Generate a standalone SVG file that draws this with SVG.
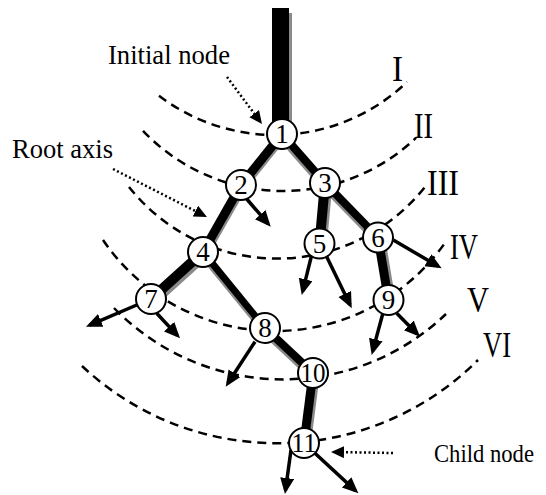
<svg xmlns="http://www.w3.org/2000/svg" width="546" height="495" viewBox="0 0 546 495">
<defs>
<marker id="ah" markerUnits="userSpaceOnUse" markerWidth="18" markerHeight="16" refX="12" refY="7" orient="auto"><path d="M0,0 L16,7 L0,14 z" fill="#000"/></marker>
<marker id="ph" markerUnits="userSpaceOnUse" markerWidth="15" markerHeight="13" refX="9" refY="6" orient="auto"><path d="M0,0 L13,6 L0,12 z" fill="#000"/></marker>
</defs>
<style>
.arc{fill:none;stroke:#000;stroke-width:2.5;stroke-dasharray:9 6}
.sh{stroke:#8a8a8a}
.ed{stroke:#000}
.ar{stroke:#000;stroke-width:3.5;marker-end:url(#ah)}
.pt{stroke:#000;stroke-width:2.5;stroke-dasharray:2 2.5;marker-end:url(#ph)}
.nd circle{fill:#fff;stroke:#000;stroke-width:2}
.nd text{font-family:"Liberation Serif","Times New Roman",serif;font-size:27px;text-anchor:middle}
.lb{font-family:"Liberation Serif","Times New Roman",serif;font-size:27px}
.rn{font-family:"Liberation Serif","Times New Roman",serif;font-size:36px}
</style>
<g id="arcs">
<path class="arc" d="M159,95.7 A191,191 0 0 0 407,82"/>
<path class="arc" d="M143,130.8 A193,193 0 0 0 416,137.9"/>
<path class="arc" d="M129,186.9 A188.6,188.6 0 0 0 428,183"/>
<path class="arc" d="M103,240 A208,208 0 0 0 447,240"/>
<path class="arc" d="M114,308 A235.8,235.8 0 0 0 446,314"/>
<path class="arc" d="M82,366 A284.6,284.6 0 0 0 478,360"/>
</g>
<g id="connectors">
<rect x="275" y="13" width="17" height="115" fill="#8a8a8a"/>
<rect x="272" y="8" width="17" height="120" fill="#000"/>
<line class="sh" x1="284" y1="135" x2="243" y2="186" stroke-width="9"/>
<line class="ed" x1="282" y1="134" x2="241" y2="185" stroke-width="9"/>
<line class="sh" x1="280.5" y1="136" x2="323.5" y2="185" stroke-width="8"/>
<line class="ed" x1="282" y1="134" x2="325" y2="183" stroke-width="8"/>
<line class="sh" x1="243" y1="186" x2="205" y2="253" stroke-width="9"/>
<line class="ed" x1="241" y1="185" x2="203" y2="252" stroke-width="9"/>
<line class="sh" x1="327.5" y1="183" x2="322" y2="243.5" stroke-width="10"/>
<line class="ed" x1="325" y1="183" x2="319.5" y2="243.5" stroke-width="10"/>
<line class="sh" x1="323.5" y1="185" x2="376.5" y2="239.5" stroke-width="8"/>
<line class="ed" x1="325" y1="183" x2="378" y2="237.5" stroke-width="8"/>
<line class="sh" x1="205.5" y1="254.5" x2="153.5" y2="301.5" stroke-width="10"/>
<line class="ed" x1="203" y1="252" x2="151" y2="299" stroke-width="10"/>
<line class="sh" x1="201" y1="253" x2="263" y2="329" stroke-width="7"/>
<line class="ed" x1="203" y1="252" x2="265" y2="328" stroke-width="7"/>
<line class="sh" x1="380.5" y1="237.5" x2="391" y2="300" stroke-width="9"/>
<line class="ed" x1="378" y1="237.5" x2="388.5" y2="300" stroke-width="9"/>
<line class="sh" x1="263.5" y1="330" x2="311.5" y2="375" stroke-width="8"/>
<line class="ed" x1="265" y1="328" x2="313" y2="373" stroke-width="8"/>
<line class="sh" x1="315.5" y1="373" x2="306.5" y2="443" stroke-width="9"/>
<line class="ed" x1="313" y1="373" x2="304" y2="443" stroke-width="9"/>
<line class="ar" x1="245" y1="197" x2="268.1" y2="223.7"/>
<line class="ar" x1="311.7" y1="255" x2="302.7" y2="291.1"/>
<line class="ar" x1="326.7" y1="256.7" x2="350" y2="304.7"/>
<line class="ar" x1="393.3" y1="240" x2="438.2" y2="266.3"/>
<line class="ar" x1="383.3" y1="311.7" x2="372.7" y2="351.1"/>
<line class="ar" x1="396.7" y1="313.3" x2="417.2" y2="333.9"/>
<line class="ar" x1="136.7" y1="305" x2="89.7" y2="325.1"/>
<line class="ar" x1="156.7" y1="313.3" x2="177.3" y2="335.4"/>
<line class="ar" x1="255" y1="341.7" x2="227.9" y2="383.3"/>
<line class="ar" x1="291" y1="450" x2="285.5" y2="490"/>
<line class="ar" x1="315" y1="453.3" x2="355.4" y2="490.6"/>
<line class="pt" x1="227" y1="77" x2="259.6" y2="120.8"/>
<line class="pt" x1="113" y1="169" x2="203.4" y2="215.2"/>
<line class="pt" x1="393" y1="453" x2="335" y2="452"/>
</g>
<g id="n1" class="nd"><circle cx="282" cy="134" r="15"/><text x="282" y="143">1</text></g>
<g id="n2" class="nd"><circle cx="241" cy="185" r="15"/><text x="241" y="194">2</text></g>
<g id="n3" class="nd"><circle cx="325" cy="183" r="15"/><text x="325" y="192">3</text></g>
<g id="n4" class="nd"><circle cx="203" cy="252" r="15"/><text x="203" y="261">4</text></g>
<g id="n5" class="nd"><circle cx="319.5" cy="243.5" r="15"/><text x="319.5" y="252.5">5</text></g>
<g id="n6" class="nd"><circle cx="378" cy="237.5" r="15"/><text x="378" y="246.5">6</text></g>
<g id="n7" class="nd"><circle cx="151" cy="299" r="15"/><text x="151" y="308">7</text></g>
<g id="n8" class="nd"><circle cx="265" cy="328" r="15"/><text x="265" y="337">8</text></g>
<g id="n9" class="nd"><circle cx="388.5" cy="300" r="15"/><text x="388.5" y="309">9</text></g>
<g id="n10" class="nd"><circle cx="313" cy="373" r="15"/><text x="313" y="382" textLength="25" lengthAdjust="spacingAndGlyphs">10</text></g>
<g id="n11" class="nd"><circle cx="304" cy="443" r="15"/><text x="304" y="452" textLength="25" lengthAdjust="spacingAndGlyphs">11</text></g>
<g id="labels">
<text class="lb" x="108" y="64" textLength="122" lengthAdjust="spacingAndGlyphs">Initial node</text>
<text class="lb" x="12" y="158" textLength="101" lengthAdjust="spacingAndGlyphs">Root axis</text>
<text class="lb" x="434" y="461.5" textLength="100" lengthAdjust="spacingAndGlyphs" style="font-size:25px">Child node</text>
<text class="rn" x="392" y="81" textLength="11" lengthAdjust="spacingAndGlyphs">I</text>
<text class="rn" x="414" y="138" textLength="19" lengthAdjust="spacingAndGlyphs">II</text>
<text class="rn" x="427" y="195" textLength="32" lengthAdjust="spacingAndGlyphs">III</text>
<text class="rn" x="450" y="259" textLength="28" lengthAdjust="spacingAndGlyphs">IV</text>
<text class="rn" x="467" y="311.5" textLength="22" lengthAdjust="spacingAndGlyphs">V</text>
<text class="rn" x="483" y="357" textLength="28" lengthAdjust="spacingAndGlyphs">VI</text>
</g>
</svg>
